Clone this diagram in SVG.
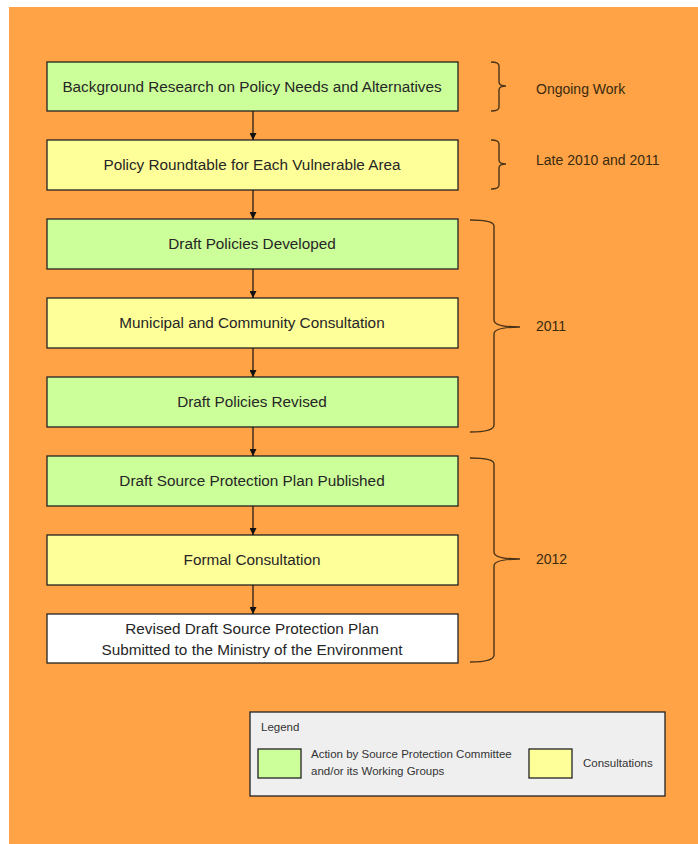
<svg xmlns="http://www.w3.org/2000/svg" width="698" height="844" viewBox="0 0 698 844">
<defs>
<marker id="ah" viewBox="0 0 10 10" refX="10" refY="5" markerWidth="7" markerHeight="7" markerUnits="userSpaceOnUse" orient="auto"><path d="M0,0 L10,5 L0,10 z" fill="#111"/></marker>
<style>
.box{stroke:#222;stroke-width:1.3}
.g{fill:#ccff99}.y{fill:#ffff99}.w{fill:#ffffff}
.t{font-family:"Liberation Sans",Arial,sans-serif;font-size:15.3px;fill:#262626;text-anchor:middle}
.s{font-family:"Liberation Sans",Arial,sans-serif;font-size:14px;fill:#3a2a10}
.l{font-family:"Liberation Sans",Arial,sans-serif;font-size:11.5px;fill:#333}
.c{stroke:#111;stroke-width:1.2;fill:none}
.br{stroke:#4a3418;stroke-width:1.4;fill:none}
</style>
</defs>
<rect x="0" y="0" width="698" height="844" fill="#ffffff"/>
<rect x="9" y="7" width="689" height="837" fill="#ffa346"/>
<g id="n1"><rect class="box g" x="47" y="62" width="411" height="49"/><text class="t" x="252" y="92">Background Research on Policy Needs and Alternatives</text></g>
<g id="n2"><rect class="box y" x="47" y="140" width="411" height="50"/><text class="t" x="252" y="170">Policy Roundtable for Each Vulnerable Area</text></g>
<g id="n3"><rect class="box g" x="47" y="219" width="411" height="50"/><text class="t" x="252" y="249">Draft Policies Developed</text></g>
<g id="n4"><rect class="box y" x="47" y="298" width="411" height="50"/><text class="t" x="252" y="328">Municipal and Community Consultation</text></g>
<g id="n5"><rect class="box g" x="47" y="377" width="411" height="50"/><text class="t" x="252" y="407">Draft Policies Revised</text></g>
<g id="n6"><rect class="box g" x="47" y="456" width="411" height="50"/><text class="t" x="252" y="486">Draft Source Protection Plan Published</text></g>
<g id="n7"><rect class="box y" x="47" y="535" width="411" height="50"/><text class="t" x="252" y="565">Formal Consultation</text></g>
<g id="n8"><rect class="box w" x="47" y="614" width="411" height="49"/><text class="t" x="252" y="634">Revised Draft Source Protection Plan</text><text class="t" x="252" y="655">Submitted to the Ministry of the Environment</text></g>
<g id="connectors">
<line class="c" x1="253" y1="111" x2="253" y2="140" marker-end="url(#ah)"/>
<line class="c" x1="253" y1="190" x2="253" y2="219" marker-end="url(#ah)"/>
<line class="c" x1="253" y1="269" x2="253" y2="298" marker-end="url(#ah)"/>
<line class="c" x1="253" y1="348" x2="253" y2="377" marker-end="url(#ah)"/>
<line class="c" x1="253" y1="427" x2="253" y2="456" marker-end="url(#ah)"/>
<line class="c" x1="253" y1="506" x2="253" y2="535" marker-end="url(#ah)"/>
<line class="c" x1="253" y1="585" x2="253" y2="614" marker-end="url(#ah)"/>
</g>
<g id="brackets">
<path class="br" d="M491,62 Q499,62 499,66 L499,82 Q499,86 506,86 Q499,86 499,90 L499,107 Q499,111 491,111"/>
<path class="br" d="M491,140 Q499,140 499,144 L499,160 Q499,164 506,164 Q499,164 499,168 L499,185 Q499,189 491,189"/>
<path class="br" d="M470,220 Q494,220 494,226 L494,320 Q494,327 520,327 Q494,327 494,334 L494,425 Q494,432 470,432"/>
<path class="br" d="M470,458 Q494,458 494,464 L494,552 Q494,559 520,559 Q494,559 494,566 L494,655 Q494,662 470,662"/>
<text class="s" x="536" y="94">Ongoing Work</text>
<text class="s" x="536" y="165">Late 2010 and 2011</text>
<text class="s" x="536" y="331">2011</text>
<text class="s" x="536" y="564">2012</text>
</g>
<g id="legend">
<rect x="250" y="712" width="415" height="84" fill="#efefef" stroke="#222" stroke-width="1.3"/>
<text class="l" x="261" y="731">Legend</text>
<rect class="box g" x="258" y="749" width="43" height="29"/>
<text class="l" x="311" y="758">Action by Source Protection Committee</text>
<text class="l" x="311" y="775">and/or its Working Groups</text>
<rect class="box y" x="529" y="749" width="43" height="29"/>
<text class="l" x="583" y="767">Consultations</text>
</g>
</svg>
